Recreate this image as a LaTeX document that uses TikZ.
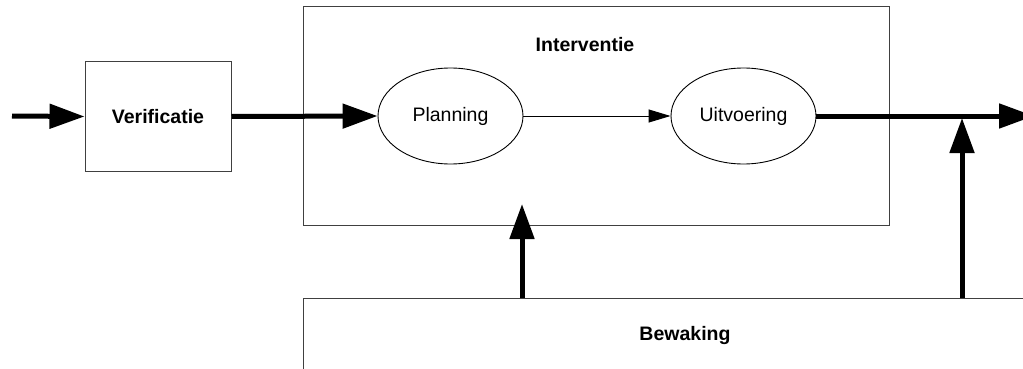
\documentclass[tikz,border=0pt]{standalone}
\usepackage{fontspec}
\setmainfont{Liberation Sans}
\usetikzlibrary{arrows.meta,shapes.geometric}
\begin{document}
\begin{tikzpicture}[x=1pt,y=-1pt,
  boxstyle/.style={draw=black!75,line width=1pt,inner sep=0pt},
  ellstyle/.style={draw=black,ellipse,line width=0.9pt,inner sep=0pt,minimum width=145pt,minimum height=96pt,font=\fontsize{19.5}{22}\selectfont},
  thickarrow/.style={line width=5pt,-{Triangle[length=35pt,width=24pt]}},
  thinarrow/.style={line width=1pt,-{Triangle[length=22pt,width=13pt]}},
  lbl/.style={font=\fontsize{19.5}{22}\selectfont\bfseries,inner sep=0pt}]
\useasboundingbox (0,0) rectangle (1023,369);
\fill[white] (0,0) rectangle (1023,369);
% boxes
\node[boxstyle,minimum width=146pt,minimum height=109pt,lbl] (ver) at (158,116.5) {Verificatie};
\node[boxstyle,minimum width=586pt,minimum height=218pt] (int) at (596,116) {};
\node[lbl] (intlbl) at (585,45) {Interventie};
\node[boxstyle,minimum width=737pt,minimum height=100pt] (bew) at (671.5,348) {};
\node[lbl] (bewlbl) at (685,335) {Bewaking};
% ellipses
\node[ellstyle] (plan) at (450.5,116) {Planning};
\node[ellstyle] (uit) at (743.5,116) {Uitvoering};
% coordinates
\coordinate (start) at (12,116);
\coordinate (endr) at (1034,116);
\coordinate (tipint) at (522,204);
\coordinate (tipout) at (962,118);
% connectors
\draw[thickarrow] (start) -- (ver.west);
\draw[thickarrow] (ver.east) -- (plan.west);
\draw[thinarrow] (plan.east) -- (uit.west);
\draw[thickarrow] (uit.east) -- (endr);
\draw[thickarrow] (bew.north -| tipint) -- (tipint);
\draw[thickarrow] (bew.north -| tipout) -- (tipout);
\end{tikzpicture}
\end{document}
